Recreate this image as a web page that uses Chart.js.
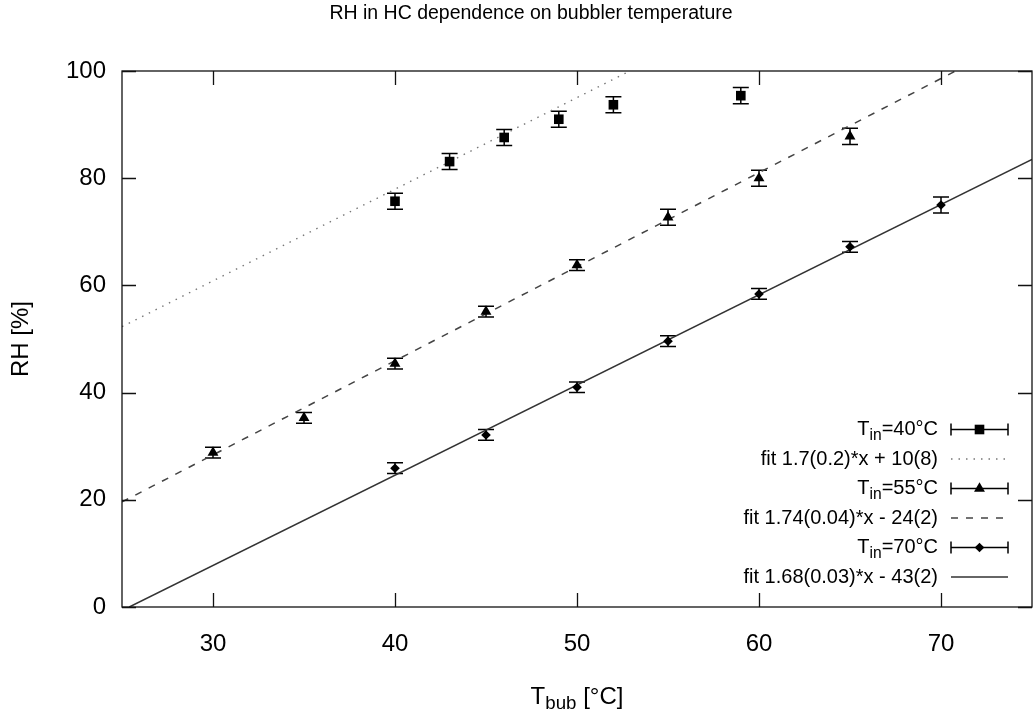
<!DOCTYPE html>
<html>
<head>
<meta charset="utf-8">
<script src="https://cdn.jsdelivr.net/npm/chart.js@4.4.1/dist/chart.umd.min.js"></script>
<style>html,body{margin:0;padding:0;background:#fff}canvas{display:block}</style>
</head>
<body>
<canvas id="c" width="1033" height="722"></canvas>
<script>
const FONT = "'Liberation Sans', Arial, Helvetica, sans-serif";
const TITLE_SIZE = 19.5;
const TICK_SIZE = 24;
const AXIS_TITLE_SIZE = 24;
const KEY_SIZE = 20;

const titleText = 'RH in HC dependence on bubbler temperature';
const xTitle = 'T_{bub} [°C]';
const yTitle = 'RH [%]';
const xTicks = [30, 40, 50, 60, 70];
const yTicks = [0, 20, 40, 60, 80, 100];

// T_in = 40 °C
const x40 = [40, 43, 46, 49, 52, 59];
const rh40 = [75.7, 83.1, 87.6, 91.0, 93.7, 95.4];
const err40 = [1.5, 1.5, 1.5, 1.5, 1.5, 1.5];
// T_in = 55 °C
const x55 = [30, 35, 40, 45, 50, 55, 60, 65];
const rh55 = [28.8, 35.3, 45.4, 55.1, 63.8, 72.7, 80.0, 87.8];
const err55 = [1, 1, 1, 1, 1, 1.5, 1.5, 1.5];
// T_in = 70 °C
const x70 = [40, 45, 50, 55, 60, 65, 70];
const rh70 = [25.9, 32.1, 41.0, 49.6, 58.4, 67.2, 75.0];
const err70 = [1, 1, 1, 1, 1, 1, 1.5];

// fit lines (end points)
const fit40X = [25, 52.9];
const fit40Y = [52.3, 100];
const fit55X = [25, 70.8];
const fit55Y = [19.6, 100];
const fit70X = [25.4, 75];
const fit70Y = [0, 83.5];

const legendLabels = [
  'T_{in}=40°C',
  'fit 1.7(0.2)*x + 10(8)',
  'T_{in}=55°C',
  'fit 1.74(0.04)*x - 24(2)',
  'T_{in}=70°C',
  'fit 1.68(0.03)*x - 43(2)'
];

const pts = (xs, ys) => xs.map((x, i) => ({ x: x, y: ys[i] }));

function parseRich(s) {
  const parts = [];
  const re = /_\{([^}]*)\}/g;
  let last = 0, m;
  while ((m = re.exec(s)) !== null) {
    if (m.index > last) parts.push({ t: s.slice(last, m.index), sub: false });
    parts.push({ t: m[1], sub: true });
    last = re.lastIndex;
  }
  if (last < s.length) parts.push({ t: s.slice(last), sub: false });
  return parts;
}
function richWidth(ctx, parts, size) {
  let w = 0;
  parts.forEach(p => {
    ctx.font = (p.sub ? size * 0.78 : size) + 'px ' + FONT;
    w += ctx.measureText(p.t).width;
  });
  return w;
}
function drawRich(ctx, s, x, y, size, align) {
  const parts = parseRich(s);
  const w = richWidth(ctx, parts, size);
  let cx = align === 'right' ? x - w : (align === 'center' ? x - w / 2 : x);
  ctx.textAlign = 'left';
  ctx.textBaseline = 'middle';
  parts.forEach(p => {
    const fs = p.sub ? size * 0.78 : size;
    ctx.font = fs + 'px ' + FONT;
    ctx.fillText(p.t, cx, p.sub ? y + size * 0.3 : y);
    cx += ctx.measureText(p.t).width;
  });
}
function marker(ctx, style, x, y, r) {
  ctx.beginPath();
  if (style === 'rect') {
    const s = r * Math.SQRT1_2;
    ctx.rect(x - s, y - s, 2 * s, 2 * s);
  } else if (style === 'triangle') {
    for (let k = 0; k < 3; k++) {
      const a = k * 2 * Math.PI / 3;
      const px = x + Math.sin(a) * r, py = y - Math.cos(a) * r;
      if (k === 0) ctx.moveTo(px, py); else ctx.lineTo(px, py);
    }
    ctx.closePath();
  } else {
    ctx.moveTo(x, y - r); ctx.lineTo(x + r, y); ctx.lineTo(x, y + r); ctx.lineTo(x - r, y); ctx.closePath();
  }
  ctx.fill();
}

const errorBars = {
  id: 'errorBars',
  beforeDatasetsDraw(chart) {
    const ctx = chart.ctx, xs = chart.scales.x, ys = chart.scales.y;
    ctx.save();
    ctx.strokeStyle = '#000';
    ctx.lineWidth = 1.5;
    chart.data.datasets.forEach(ds => {
      if (!ds.errors) return;
      ds.data.forEach((p, j) => {
        const px = xs.getPixelForValue(p.x);
        const t = ys.getPixelForValue(p.y + ds.errors[j]);
        const b = ys.getPixelForValue(p.y - ds.errors[j]);
        ctx.beginPath();
        ctx.moveTo(px, t); ctx.lineTo(px, b);
        ctx.moveTo(px - 8, t); ctx.lineTo(px + 8, t);
        ctx.moveTo(px - 8, b); ctx.lineTo(px + 8, b);
        ctx.stroke();
      });
    });
    ctx.restore();
  }
};

const frameAndText = {
  id: 'frameAndText',
  afterDraw(chart) {
    const ctx = chart.ctx, a = chart.chartArea, xs = chart.scales.x, ys = chart.scales.y;
    ctx.save();
    ctx.strokeStyle = '#111';
    ctx.lineWidth = 1.3;
    ctx.strokeRect(a.left, a.top, a.right - a.left, a.bottom - a.top);
    const TL = 14;
    ctx.beginPath();
    xs.ticks.forEach(t => {
      const px = Math.round(xs.getPixelForValue(t.value)) + 0.5;
      ctx.moveTo(px, a.bottom); ctx.lineTo(px, a.bottom - TL);
      ctx.moveTo(px, a.top); ctx.lineTo(px, a.top + TL);
    });
    ys.ticks.forEach(t => {
      const py = Math.round(ys.getPixelForValue(t.value)) + 0.5;
      ctx.moveTo(a.left, py); ctx.lineTo(a.left + TL, py);
      ctx.moveTo(a.right, py); ctx.lineTo(a.right - TL, py);
    });
    ctx.stroke();

    // title and axis titles
    ctx.fillStyle = '#000';
    drawRich(ctx, titleText, 531, 14, TITLE_SIZE, 'center');
    drawRich(ctx, xTitle, (a.left + a.right) / 2, 697, AXIS_TITLE_SIZE, 'center');
    ctx.save();
    ctx.translate(21, (a.top + a.bottom) / 2);
    ctx.rotate(-Math.PI / 2);
    drawRich(ctx, yTitle, 0, 0, AXIS_TITLE_SIZE, 'center');
    ctx.restore();

    // key
    const textRight = 938, s0 = 951, s1 = 1008, y0 = 429.5, dy = 29.5;
    chart.data.datasets.forEach((ds, i) => {
      const y = y0 + i * dy;
      ctx.fillStyle = '#000';
      drawRich(ctx, legendLabels[i], textRight, y, KEY_SIZE, 'right');
      ctx.save();
      if (ds.errors) {
        ctx.strokeStyle = '#000'; ctx.lineWidth = 1.5;
        ctx.beginPath();
        ctx.moveTo(s0, y); ctx.lineTo(s1, y);
        ctx.moveTo(s0, y - 6); ctx.lineTo(s0, y + 6);
        ctx.moveTo(s1, y - 6); ctx.lineTo(s1, y + 6);
        ctx.stroke();
        ctx.fillStyle = '#000';
        marker(ctx, ds.pointStyle, (s0 + s1) / 2, y, ds.pointRadius);
      } else {
        ctx.strokeStyle = ds.borderColor; ctx.lineWidth = ds.borderWidth;
        ctx.setLineDash(ds.borderDash || []);
        ctx.beginPath(); ctx.moveTo(s0, y); ctx.lineTo(s1, y); ctx.stroke();
      }
      ctx.restore();
    });
    ctx.restore();
  }
};

new Chart(document.getElementById('c'), {
  type: 'scatter',
  data: {
    datasets: [
      { label: legendLabels[0], data: pts(x40, rh40), errors: err40, pointStyle: 'rect', pointRadius: 6.8,
        backgroundColor: '#000', borderColor: '#000', borderWidth: 0, showLine: false },
      { label: legendLabels[1], data: pts(fit40X, fit40Y), showLine: true, pointRadius: 0,
        borderColor: '#777', borderWidth: 1.4, borderDash: [1.5, 6] },
      { label: legendLabels[2], data: pts(x55, rh55), errors: err55, pointStyle: 'triangle', pointRadius: 6.3,
        backgroundColor: '#000', borderColor: '#000', borderWidth: 0, showLine: false },
      { label: legendLabels[3], data: pts(fit55X, fit55Y), showLine: true, pointRadius: 0,
        borderColor: '#444', borderWidth: 1.5, borderDash: [7, 8] },
      { label: legendLabels[4], data: pts(x70, rh70), errors: err70, pointStyle: 'rectRot', pointRadius: 4.8,
        backgroundColor: '#000', borderColor: '#000', borderWidth: 0, showLine: false },
      { label: legendLabels[5], data: pts(fit70X, fit70Y), showLine: true, pointRadius: 0,
        borderColor: '#333', borderWidth: 1.5 }
    ]
  },
  options: {
    responsive: false,
    animation: false,
    devicePixelRatio: 1,
    events: [],
    layout: { autoPadding: false, padding: { top: 71, right: 1, left: 0, bottom: 0 } },
    plugins: { legend: { display: false }, tooltip: { enabled: false }, title: { display: false } },
    scales: {
      x: {
        type: 'linear', position: 'bottom', min: 25, max: 75,
        afterBuildTicks(s) { s.ticks = xTicks.map(v => ({ value: v })); },
        afterFit(s) { s.height = 115; s.paddingLeft = 0; s.paddingRight = 0; },
        grid: { display: false, drawTicks: false },
        border: { display: false },
        ticks: { color: '#000', font: { family: FONT, size: TICK_SIZE }, padding: 23, maxRotation: 0, autoSkip: false }
      },
      y: {
        type: 'linear', position: 'left', min: 0, max: 100,
        afterBuildTicks(s) { s.ticks = yTicks.map(v => ({ value: v })); },
        afterFit(s) { s.width = 122; s.paddingTop = 0; s.paddingBottom = 0; },
        grid: { display: false, drawTicks: false },
        border: { display: false },
        ticks: { color: '#000', font: { family: FONT, size: TICK_SIZE }, padding: 16, autoSkip: false }
      }
    }
  },
  plugins: [errorBars, frameAndText]
});
</script>
</body>
</html>
